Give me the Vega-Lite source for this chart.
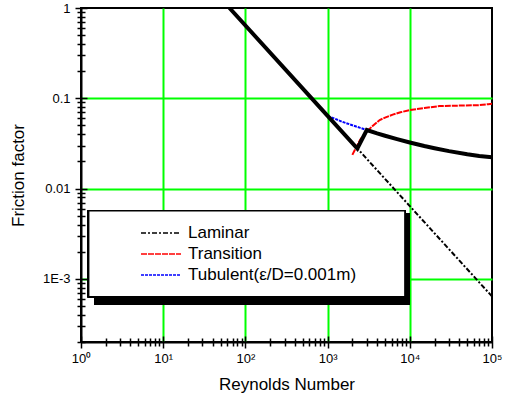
{
  "$schema": "https://vega.github.io/schema/vega-lite/v6.json",
  "width": 411,
  "height": 334,
  "autosize": {"type": "none"},
  "padding": {"left": 81, "top": 8, "right": 13, "bottom": 57},
  "background": "white",
  "config": {
    "view": {"stroke": "black", "strokeWidth": 2},
    "font": "Liberation Sans"
  },
  "datasets": {
    "curves": [
      {"series": "Laminar", "Re": 64, "f": 1},
      {"series": "Laminar", "Re": 1000, "f": 0.064},
      {"series": "Laminar", "Re": 10000, "f": 0.0064},
      {"series": "Laminar", "Re": 100000, "f": 0.00064},
      {"series": "Transition", "Re": 2000, "f": 0.0236},
      {"series": "Transition", "Re": 2200, "f": 0.028},
      {"series": "Transition", "Re": 2500, "f": 0.035},
      {"series": "Transition", "Re": 3000, "f": 0.043},
      {"series": "Transition", "Re": 3500, "f": 0.049},
      {"series": "Transition", "Re": 4300, "f": 0.0575},
      {"series": "Transition", "Re": 5000, "f": 0.061},
      {"series": "Transition", "Re": 6200, "f": 0.066},
      {"series": "Transition", "Re": 7700, "f": 0.07},
      {"series": "Transition", "Re": 10000, "f": 0.074},
      {"series": "Transition", "Re": 15000, "f": 0.078},
      {"series": "Transition", "Re": 23000, "f": 0.082},
      {"series": "Transition", "Re": 40000, "f": 0.083},
      {"series": "Transition", "Re": 70000, "f": 0.084},
      {"series": "Transition", "Re": 90000, "f": 0.086},
      {"series": "Transition", "Re": 100000, "f": 0.087},
      {"series": "Tubulent(ε/D=0.001m)", "Re": 1000, "f": 0.063},
      {"series": "Tubulent(ε/D=0.001m)", "Re": 1200, "f": 0.06},
      {"series": "Tubulent(ε/D=0.001m)", "Re": 1500, "f": 0.055},
      {"series": "Tubulent(ε/D=0.001m)", "Re": 2000, "f": 0.0503},
      {"series": "Tubulent(ε/D=0.001m)", "Re": 2500, "f": 0.047},
      {"series": "Tubulent(ε/D=0.001m)", "Re": 3000, "f": 0.0445},
      {"series": "Tubulent(ε/D=0.001m)", "Re": 4000, "f": 0.0409},
      {"series": "Tubulent(ε/D=0.001m)", "Re": 5000, "f": 0.0385},
      {"series": "Tubulent(ε/D=0.001m)", "Re": 7000, "f": 0.0353},
      {"series": "Tubulent(ε/D=0.001m)", "Re": 10000, "f": 0.0324},
      {"series": "Tubulent(ε/D=0.001m)", "Re": 15000, "f": 0.0296},
      {"series": "Tubulent(ε/D=0.001m)", "Re": 20000, "f": 0.028},
      {"series": "Tubulent(ε/D=0.001m)", "Re": 30000, "f": 0.026},
      {"series": "Tubulent(ε/D=0.001m)", "Re": 50000, "f": 0.024},
      {"series": "Tubulent(ε/D=0.001m)", "Re": 70000, "f": 0.023},
      {"series": "Tubulent(ε/D=0.001m)", "Re": 100000, "f": 0.0222},
      {"series": "Actual", "Re": 64, "f": 1},
      {"series": "Actual", "Re": 1000, "f": 0.064},
      {"series": "Actual", "Re": 2300, "f": 0.0278},
      {"series": "Actual", "Re": 3000, "f": 0.0445},
      {"series": "Actual", "Re": 4000, "f": 0.0409},
      {"series": "Actual", "Re": 5000, "f": 0.0385},
      {"series": "Actual", "Re": 7000, "f": 0.0353},
      {"series": "Actual", "Re": 10000, "f": 0.0324},
      {"series": "Actual", "Re": 15000, "f": 0.0296},
      {"series": "Actual", "Re": 20000, "f": 0.028},
      {"series": "Actual", "Re": 30000, "f": 0.026},
      {"series": "Actual", "Re": 50000, "f": 0.024},
      {"series": "Actual", "Re": 70000, "f": 0.023},
      {"series": "Actual", "Re": 100000, "f": 0.0222}
    ]
  },
  "data": {"name": "curves"},
  "resolve": {"axis": {"x": "independent", "y": "independent"}},
  "layer": [
    {
      "encoding": {
        "x": {
          "field": "Re", "type": "quantitative",
          "scale": {"type": "log", "domain": [1, 100000], "nice": false},
          "axis": {
            "orient": "bottom",
            "title": "Reynolds Number",
            "titleFont": "Liberation Sans", "titleFontSize": 17, "titleFontWeight": "normal", "titleColor": "black",
            "titlePadding": 11,
            "values": [1,2,3,4,5,6,7,8,9,10,20,30,40,50,60,70,80,90,100,200,300,400,500,600,700,800,900,1000,2000,3000,4000,5000,6000,7000,8000,9000,10000,20000,30000,40000,50000,60000,70000,80000,90000,100000],
            "labelExpr": "datum.value==1?'10⁰':datum.value==10?'10¹':datum.value==100?'10²':datum.value==1000?'10³':datum.value==10000?'10⁴':datum.value==100000?'10⁵':''",
            "labelFont": "Liberation Sans", "labelFontSize": 13, "labelColor": "black",
            "labelPadding": 4, "labelOverlap": false, "labelFlush": false,
            "tickColor": "black", "tickWidth": 1.5,
            "tickSize": {"condition": {"test": "indexof([1,10,100,1000,10000,100000], datum.value) >= 0", "value": 6}, "value": 4},
            "domainColor": "black", "domainWidth": 2,
            "grid": true, "gridWidth": 2,
            "gridColor": {"condition": {"test": "indexof([10,100,1000,10000], datum.value) >= 0", "value": "#00ff00"}, "value": "transparent"}
          }
        },
        "y": {
          "field": "f", "type": "quantitative",
          "scale": {"type": "log", "domain": [0.0002, 1], "nice": false},
          "axis": {
            "orient": "left",
            "title": "Friction factor",
            "titleFont": "Liberation Sans", "titleFontSize": 17, "titleFontWeight": "normal", "titleColor": "black",
            "titlePadding": 15,
            "values": [0.0002,0.0003,0.0004,0.0005,0.0006,0.0007,0.0008,0.0009,0.001,0.002,0.003,0.004,0.005,0.006,0.007,0.008,0.009,0.01,0.02,0.03,0.04,0.05,0.06,0.07,0.08,0.09,0.1,0.2,0.3,0.4,0.5,0.6,0.7,0.8,0.9,1],
            "labelExpr": "datum.value==1?'1':datum.value==0.1?'0.1':datum.value==0.01?'0.01':datum.value==0.001?'1E-3':''",
            "labelFont": "Liberation Sans", "labelFontSize": 13, "labelColor": "black",
            "labelPadding": 5, "labelOverlap": false, "labelFlush": false,
            "tickColor": "black", "tickWidth": 1.5,
            "tickSize": {"condition": {"test": "indexof([0.001,0.01,0.1,1], datum.value) >= 0", "value": 6}, "value": 4},
            "domainColor": "black", "domainWidth": 2,
            "grid": true, "gridWidth": 2,
            "gridColor": {"condition": {"test": "indexof([0.001,0.01,0.1], datum.value) >= 0", "value": "#00ff00"}, "value": "transparent"}
          }
        }
      },
      "layer": [
        {
          "mark": {"type": "rect", "color": "black"},
          "encoding": {
            "x": {"datum": 1.45, "type": "quantitative"},
            "x2": {"datum": 9800},
            "y": {"datum": 0.00537, "type": "quantitative"},
            "y2": {"datum": 0.000514}
          }
        },
        {
          "mark": {"type": "rect", "fill": "white", "stroke": "black", "strokeWidth": 1.5},
          "encoding": {
            "x": {"datum": 1.24, "type": "quantitative"},
            "x2": {"datum": 8720},
            "y": {"datum": 0.00569, "type": "quantitative"},
            "y2": {"datum": 0.000635}
          }
        },
        {
          "transform": [{"filter": "datum.series != 'Actual'"}],
          "mark": {"type": "line", "strokeWidth": 2, "clip": true},
          "encoding": {
            "x": {"field": "Re", "type": "quantitative"},
            "y": {"field": "f", "type": "quantitative"},
            "color": {
              "field": "series", "type": "nominal",
              "scale": {"domain": ["Laminar", "Transition", "Tubulent(ε/D=0.001m)"], "range": ["black", "#ff0000", "#0000ff"]},
              "legend": {
                "title": null, "orient": "none", "legendX": 79, "legendY": 214,
                "symbolType": "M-3,0H1", "symbolSize": 400, "symbolStrokeWidth": 1.5,
                "labelFont": "Liberation Sans", "labelFontSize": 17, "labelColor": "black", "labelLimit": 400,
                "labelOffset": 6, "rowPadding": 2, "padding": 0
              }
            },
            "strokeDash": {
              "field": "series", "type": "nominal",
              "scale": {"domain": ["Laminar", "Transition", "Tubulent(ε/D=0.001m)"], "range": [[5,2,2,2], [6,1], [3,1]]},
              "legend": {
                "title": null, "orient": "none", "legendX": 79, "legendY": 214,
                "symbolType": "M-3,0H1", "symbolSize": 400, "symbolStrokeWidth": 1.5,
                "labelFont": "Liberation Sans", "labelFontSize": 17, "labelColor": "black", "labelLimit": 400,
                "labelOffset": 6, "rowPadding": 2, "padding": 0
              }
            },
            "order": {"field": "Re", "type": "quantitative"}
          }
        },
        {
          "transform": [{"filter": "datum.series == 'Actual'"}],
          "mark": {"type": "line", "strokeWidth": 4, "color": "black", "clip": true},
          "encoding": {
            "x": {"field": "Re", "type": "quantitative"},
            "y": {"field": "f", "type": "quantitative"},
            "order": {"field": "Re", "type": "quantitative"}
          }
        }
      ]
    },
    {
      "transform": [{"filter": "datum.series == 'Laminar'"}],
      "mark": {"type": "point", "opacity": 0},
      "encoding": {
        "x": {
          "field": "Re", "type": "quantitative",
          "axis": {
            "orient": "bottom", "title": null, "labels": false, "domain": false, "grid": false,
            "values": [1,2,3,4,5,6,7,8,9,10,20,30,40,50,60,70,80,90,100,200,300,400,500,600,700,800,900,1000,2000,3000,4000,5000,6000,7000,8000,9000,10000,20000,30000,40000,50000,60000,70000,80000,90000,100000],
            "tickColor": "black", "tickWidth": 1.5,
            "tickSize": {"condition": {"test": "indexof([1,10,100,1000,10000,100000], datum.value) >= 0", "value": -6}, "value": -4}
          }
        },
        "y": {
          "field": "f", "type": "quantitative",
          "axis": {
            "orient": "left", "title": null, "labels": false, "domain": false, "grid": false,
            "values": [0.0002,0.0003,0.0004,0.0005,0.0006,0.0007,0.0008,0.0009,0.001,0.002,0.003,0.004,0.005,0.006,0.007,0.008,0.009,0.01,0.02,0.03,0.04,0.05,0.06,0.07,0.08,0.09,0.1,0.2,0.3,0.4,0.5,0.6,0.7,0.8,0.9,1],
            "tickColor": "black", "tickWidth": 1.5,
            "tickSize": {"condition": {"test": "indexof([0.001,0.01,0.1,1], datum.value) >= 0", "value": -6}, "value": -4}
          }
        }
      }
    }
  ]
}
